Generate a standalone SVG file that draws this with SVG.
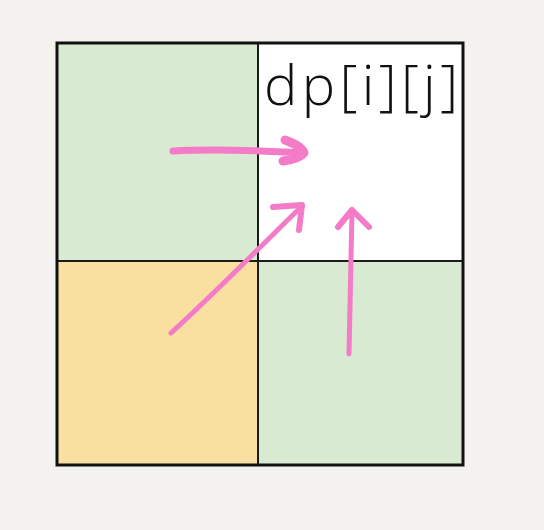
<svg xmlns="http://www.w3.org/2000/svg" width="544" height="530" viewBox="0 0 544 530">
  <style>
    .cell { stroke: #1a1a1a; stroke-width: 2; }
    .arrow { fill: none; stroke: #f47bc7; stroke-linecap: round; stroke-linejoin: round; }
    .label { font-family: "Open Sans", "DejaVu Sans", sans-serif; font-size: 56px; font-weight: 300; fill: #111; }
  </style>
  <rect width="544" height="530" fill="#f3f2ee"/>
  <g id="cell-top-left"><rect class="cell" x="57" y="43" width="201" height="218" fill="#d9ead3"/></g>
  <g id="cell-top-right">
    <rect class="cell" x="258" y="43" width="205" height="218" fill="#ffffff"/>
    <text class="label" x="264" y="105" textLength="194" lengthAdjust="spacing">dp[i][j]</text>
  </g>
  <g id="cell-bottom-left"><rect class="cell" x="57" y="261" width="201" height="204" fill="#f9dfa0"/></g>
  <g id="cell-bottom-right"><rect class="cell" x="258" y="261" width="205" height="204" fill="#d9ead3"/></g>
  <rect x="57" y="43" width="406" height="422" fill="none" stroke="#111" stroke-width="3"/>
  <g id="connectors">
    <path class="arrow" stroke-width="7" d="M173 151 C210 149 250 150 303 153"/>
    <path class="arrow" stroke-width="9" d="M285 140 C296 144 303 149 304 153 C300 158 292 160 283 161"/>
    <path class="arrow" stroke-width="5" d="M171 333 C215 293 262 245 302 206"/>
    <path class="arrow" stroke-width="6" d="M273 207 L302 205 L299 230"/>
    <path class="arrow" stroke-width="5" d="M349 354 C350 300 351 250 352 210"/>
    <path class="arrow" stroke-width="6" d="M338 227 L352 210 L369 227"/>
  </g>
</svg>
